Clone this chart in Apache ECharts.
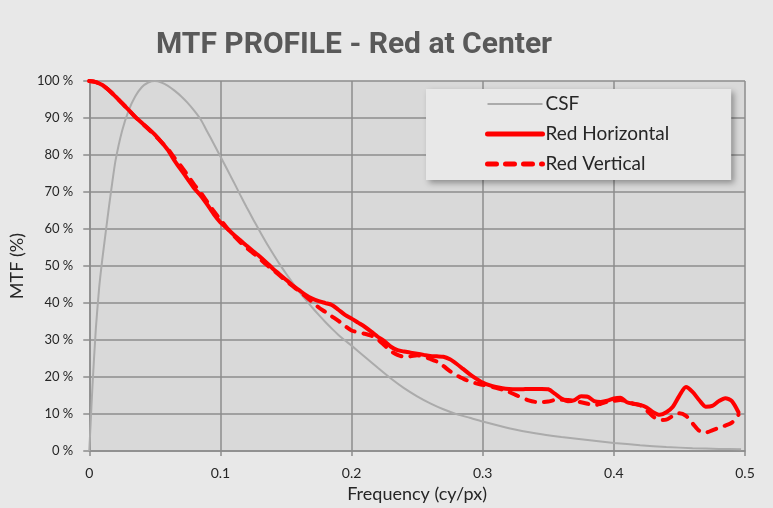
<!DOCTYPE html>
<html>
<head>
<meta charset="utf-8">
<script src="https://cdn.jsdelivr.net/npm/echarts@6/dist/echarts.min.js"></script>
<style>
html, body { margin: 0; padding: 0; background: #e8e8e8; }
#chart { width: 773px; height: 508px; }
</style>
</head>
<body>
<div id="chart"></div>
<script>
// frequency samples (cy/px)
var redFreq = [0, 0.005, 0.01, 0.015, 0.02, 0.025, 0.03, 0.035, 0.04, 0.045,
	0.05, 0.055, 0.06, 0.065, 0.07, 0.075, 0.08, 0.085, 0.09, 0.095,
	0.1, 0.105, 0.11, 0.115, 0.12, 0.125, 0.13, 0.135, 0.14, 0.145,
	0.15, 0.155, 0.16, 0.165, 0.17, 0.175, 0.18, 0.185, 0.19, 0.195,
	0.2, 0.205, 0.21, 0.215, 0.22, 0.225, 0.23, 0.235, 0.24, 0.245,
	0.25, 0.255, 0.26, 0.265, 0.27, 0.275, 0.28, 0.285, 0.29, 0.295,
	0.3, 0.305, 0.31, 0.315, 0.32, 0.325, 0.33, 0.335, 0.34, 0.345,
	0.35, 0.355, 0.36, 0.365, 0.37, 0.375, 0.38, 0.385, 0.39, 0.395,
	0.4, 0.405, 0.41, 0.415, 0.42, 0.425, 0.43, 0.435, 0.44, 0.445,
	0.45, 0.455, 0.46, 0.465, 0.47, 0.475, 0.48, 0.485, 0.49, 0.495];

var redHorizontal = [100, 99.7, 98.9, 97.5, 95.8, 94, 92.2, 90.3, 88.7, 87.2,
	85.5, 83.5, 81.3, 78.5, 76, 73.5, 71, 69, 66.6, 64,
	61.8, 60.2, 58.5, 57, 55.5, 54, 52.6, 51, 49.3, 47.8,
	46.3, 44.8, 43.5, 42.2, 41.2, 40.5, 40, 39.5, 38.2, 36.8,
	35.8, 34.7, 33.6, 32.3, 30.9, 29.7, 28.2, 27.3, 26.9, 26.6,
	26.3, 26, 25.7, 25.6, 25.5, 24.8, 23.6, 22.2, 20.8, 19.6,
	18.5, 17.8, 17.3, 17, 16.8, 16.7, 16.7, 16.8, 16.8, 16.8,
	16.7, 15.5, 14.2, 13.5, 13.8, 14.8, 14.7, 13.5, 13.3, 13.6,
	14.2, 14.4, 13.2, 12.8, 12.5, 11.8, 10.5, 9.8, 10.5, 12,
	15, 17.3, 16, 13.8, 12, 12.2, 13.5, 14.3, 13.5, 10.5];

var redVertical = [100, 99.7, 98.9, 97.5, 95.8, 94, 92.2, 90.3, 88.7, 87,
	85.3, 83.5, 81.6, 79.2, 77, 74.5, 72, 69.8, 67.3, 64.8,
	62.5, 60.3, 58.3, 56.5, 54.9, 53.5, 52, 50.4, 49, 47.5,
	46, 44.6, 43.2, 41.8, 40.3, 38.8, 37.6, 36.4, 35.2, 33.8,
	32.6, 32.1, 31.7, 31.2, 30.2, 28.6, 27, 26, 25.5, 25.6,
	25.9, 25.5, 24.9, 24.2, 23, 21.6, 20.5, 19.6, 18.8, 18.3,
	17.9, 17.5, 17.1, 16.6, 16, 15.2, 14.4, 13.7, 13.3, 13.2,
	13.4, 13.8, 13.9, 13.8, 13.6, 13.2, 12.8, 12.4, 12.8, 13.3,
	13.6, 13.8, 13.5, 12.8, 12.4, 11, 9.3, 8.4, 8.5, 9.5,
	10.2, 9.5, 7.5, 5.5, 5, 5.6, 6.3, 6.9, 7.7, 9.8];

var csfFreq = [0, 0.0025, 0.005, 0.0075, 0.01, 0.0125, 0.015, 0.0175, 0.02, 0.025,
	0.03, 0.035, 0.04, 0.045, 0.05, 0.055, 0.06, 0.065, 0.07, 0.075,
	0.08, 0.085, 0.09, 0.095, 0.1, 0.105, 0.11, 0.115, 0.12, 0.125,
	0.13, 0.135, 0.14, 0.145, 0.15, 0.155, 0.16, 0.165, 0.17, 0.175,
	0.18, 0.185, 0.19, 0.195, 0.2, 0.21, 0.22, 0.23, 0.24, 0.25,
	0.26, 0.27, 0.28, 0.29, 0.3, 0.32, 0.34, 0.36, 0.38, 0.4,
	0.42, 0.44, 0.46, 0.48, 0.497];
var csfVal = [0, 18, 33, 44, 52, 59, 66, 72.5, 78.5, 86.5,
	92, 95.8, 98.3, 99.6, 100, 99.6, 98.7, 97.4, 95.9, 94.1,
	92, 89.6, 86.3, 83, 79.6, 76.2, 72.8, 69.3, 65.9, 62.6,
	59.4, 56.3, 53.4, 50.6, 48, 45.5, 43.1, 40.9, 38.8, 36.8,
	34.9, 33.1, 31.4, 29.9, 28.5, 25.5, 22.5, 19.6, 17, 14.8,
	12.9, 11.3, 10, 9, 8, 6.2, 4.8, 3.8, 3, 2.2,
	1.6, 1.1, 0.8, 0.6, 0.5];

var yTicks = [0, 10, 20, 30, 40, 50, 60, 70, 80, 90, 100];

function pairs(xs, ys) {
	return xs.map(function (x, i) { return [x, ys[i]]; });
}

var gridColor = '#8c8c8c';
var labelFont = 'Lato, "Open Sans", sans-serif';

var chart = echarts.init(document.getElementById('chart'), null, { renderer: 'canvas' });
chart.setOption({
	backgroundColor: '#e8e8e8',
	animation: false,
	title: {
		text: 'MTF PROFILE - Red at Center',
		left: 151,
		top: 25,
		textStyle: {
			fontFamily: 'Roboto, sans-serif',
			fontSize: 30,
			fontWeight: 'bold',
			color: '#595959'
		}
	},
	legend: {
		orient: 'vertical',
		left: 426,
		top: 89,
		padding: [5, 62, 6, 59],
		itemWidth: 55,
		itemHeight: 20,
		itemGap: 10,
		backgroundColor: '#e8e8e8',
		shadowColor: 'rgba(0,0,0,0.35)',
		shadowBlur: 6,
		shadowOffsetX: 3,
		shadowOffsetY: 3,
		itemStyle: { opacity: 0 },
		textStyle: {
			fontFamily: labelFont,
			fontSize: 19,
			lineHeight: 20,
			color: '#262626',
			padding: [0, 0, 0, -2]
		},
		data: [
			{ name: 'CSF', lineStyle: { width: 2 } },
			{ name: 'Red Horizontal', lineStyle: { width: 5 } },
			{ name: 'Red Vertical', lineStyle: { width: 5 } }
		]
	},
	grid: {
		left: 87,
		right: 28,
		top: 81,
		bottom: 55,
		show: true,
		backgroundColor: '#d9d9d9',
		borderWidth: 0
	},
	xAxis: {
		type: 'value',
		min: 0,
		max: 0.5,
		interval: 0.1,
		name: 'Frequency (cy/px)',
		nameLocation: 'middle',
		nameGap: 31,
		nameTextStyle: { fontFamily: labelFont, fontSize: 18, color: '#262626' },
		axisLine: { show: true, lineStyle: { color: gridColor, width: 1.5 } },
		axisTick: { show: true, length: 5, lineStyle: { color: gridColor, width: 1.5 } },
		axisLabel: { fontFamily: labelFont, fontSize: 14, color: '#262626', margin: 15 },
		splitLine: { show: true, lineStyle: { color: gridColor, width: 1.5 } }
	},
	yAxis: {
		type: 'value',
		min: yTicks[0],
		max: yTicks[yTicks.length - 1],
		interval: 10,
		name: 'MTF (%)',
		nameLocation: 'middle',
		nameGap: 55,
		nameTextStyle: { fontFamily: labelFont, fontSize: 18, color: '#262626' },
		axisLine: { show: true, lineStyle: { color: gridColor, width: 1.5 } },
		axisTick: { show: true, length: 6, lineStyle: { color: gridColor, width: 1.5 } },
		axisLabel: {
			fontFamily: labelFont, fontSize: 13, color: '#262626', margin: 16,
			formatter: function (v) { return v + ' %'; }
		},
		splitLine: { show: true, lineStyle: { color: gridColor, width: 1.5 } }
	},
	series: [{
		name: 'CSF',
		type: 'line',
		data: pairs(csfFreq, csfVal),
		showSymbol: false,
		symbol: 'none',
		smooth: 0.2,
		lineStyle: { color: '#ababab', width: 2 },
		itemStyle: { color: '#ababab' },
		z: 2
	}, {
		name: 'Red Horizontal',
		type: 'line',
		data: pairs(redFreq, redHorizontal),
		showSymbol: false,
		symbol: 'none',
		smooth: 0.25,
		lineStyle: { color: '#ff0000', width: 4, cap: 'round', join: 'round' },
		itemStyle: { color: '#ff0000' },
		z: 4
	}, {
		name: 'Red Vertical',
		type: 'line',
		data: pairs(redFreq, redVertical),
		showSymbol: false,
		symbol: 'none',
		smooth: 0.25,
		lineStyle: { color: '#ff0000', width: 4, type: [9, 9], cap: 'round', join: 'round' },
		itemStyle: { color: '#ff0000' },
		z: 3
	}]
});
</script>
</body>
</html>
